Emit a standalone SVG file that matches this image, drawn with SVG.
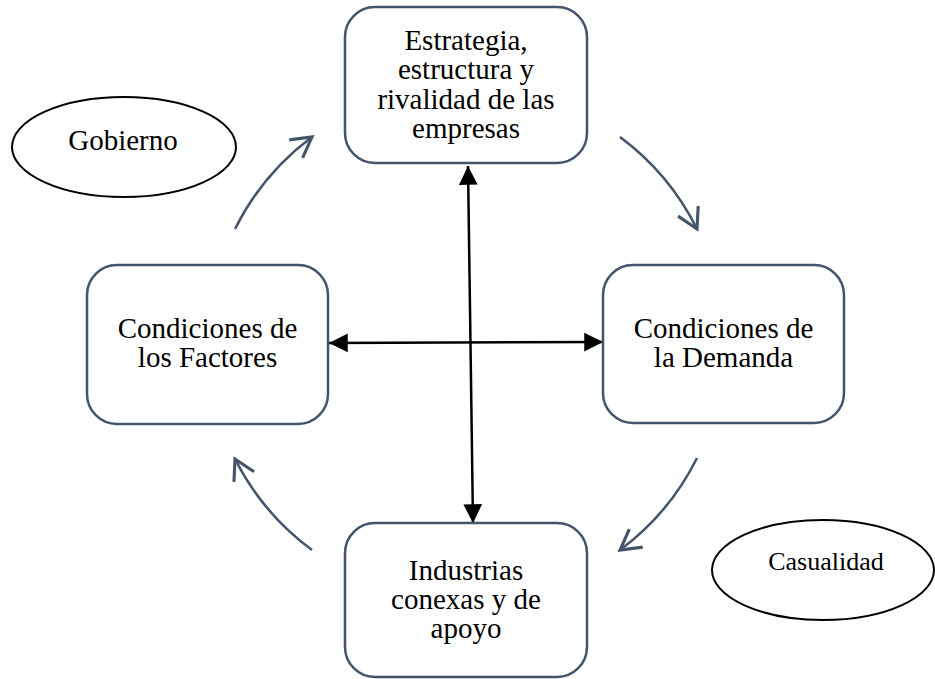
<svg xmlns="http://www.w3.org/2000/svg" width="935" height="679" viewBox="0 0 935 679">
  <style>
    .box { fill: #ffffff; stroke: #44546A; stroke-width: 2.5; }
    .ell { fill: #ffffff; stroke: #000000; stroke-width: 2; }
    .t { font-family: "Liberation Serif", "Times New Roman", serif; font-size: 29px; fill: #000000; text-anchor: middle; }
    .cyc { fill: none; stroke: #44546A; stroke-width: 2.5; marker-end: url(#open); }
    .dbl { fill: none; stroke: #000000; stroke-width: 2.5; marker-start: url(#solidS); marker-end: url(#solidE); }
  </style>
  <defs>
    <marker id="open" markerUnits="userSpaceOnUse" markerWidth="30" markerHeight="30" viewBox="-20 -12 24 24" refX="0" refY="0" orient="auto" overflow="visible">
      <path d="M-16,-9 L0,0 L-16,9" fill="none" stroke="#44546A" stroke-width="2.5" stroke-linejoin="miter"/>
    </marker>
    <marker id="solidE" markerUnits="userSpaceOnUse" markerWidth="30" markerHeight="30" viewBox="-20 -12 24 24" refX="0" refY="0" orient="auto" overflow="visible">
      <path d="M-15,-7.5 L0,0 L-15,7.5 Z" fill="#000000"/>
    </marker>
    <marker id="solidS" markerUnits="userSpaceOnUse" markerWidth="30" markerHeight="30" viewBox="-4 -12 24 24" refX="0" refY="0" orient="auto" overflow="visible">
      <path d="M15,-7.5 L0,0 L15,7.5 Z" fill="#000000"/>
    </marker>
  </defs>

  <g id="connectors">
    <path class="cyc" d="M235,229 A257,257 0 0,1 312,137"/>
    <path class="cyc" d="M620,137 A257,257 0 0,1 697,229"/>
    <path class="cyc" d="M697,458 A257,257 0 0,1 620,550"/>
    <path class="cyc" d="M312,550 A257,257 0 0,1 235,459"/>
    <path class="dbl" d="M329,343 L603,342"/>
    <path class="dbl" d="M468,166 L473,523"/>
  </g>

  <g id="node-estrategia">
    <rect class="box" x="345" y="7" width="242" height="156" rx="30" ry="30"/>
    <text class="t" x="466" y="50">Estrategia,</text>
    <text class="t" x="466" y="79">estructura y</text>
    <text class="t" x="466" y="109">rivalidad de las</text>
    <text class="t" x="466" y="138">empresas</text>
  </g>

  <g id="node-factores">
    <rect class="box" x="87" y="265" width="241" height="159" rx="30" ry="30"/>
    <text class="t" x="207.5" y="338">Condiciones de</text>
    <text class="t" x="207.5" y="367">los Factores</text>
  </g>

  <g id="node-demanda">
    <rect class="box" x="603" y="265" width="241" height="158" rx="30" ry="30"/>
    <text class="t" x="723.5" y="338">Condiciones de</text>
    <text class="t" x="723.5" y="367">la Demanda</text>
  </g>

  <g id="node-industrias">
    <rect class="box" x="345" y="523" width="242" height="154" rx="30" ry="30"/>
    <text class="t" x="466" y="580">Industrias</text>
    <text class="t" x="466" y="609">conexas y de</text>
    <text class="t" x="466" y="638">apoyo</text>
  </g>

  <g id="node-gobierno">
    <ellipse class="ell" cx="124" cy="147" rx="112" ry="50"/>
    <text class="t" x="123" y="150">Gobierno</text>
  </g>

  <g id="node-casualidad">
    <ellipse class="ell" cx="823" cy="570" rx="111" ry="50"/>
    <text class="t" x="826" y="570" style="font-size:26px">Casualidad</text>
  </g>
</svg>
